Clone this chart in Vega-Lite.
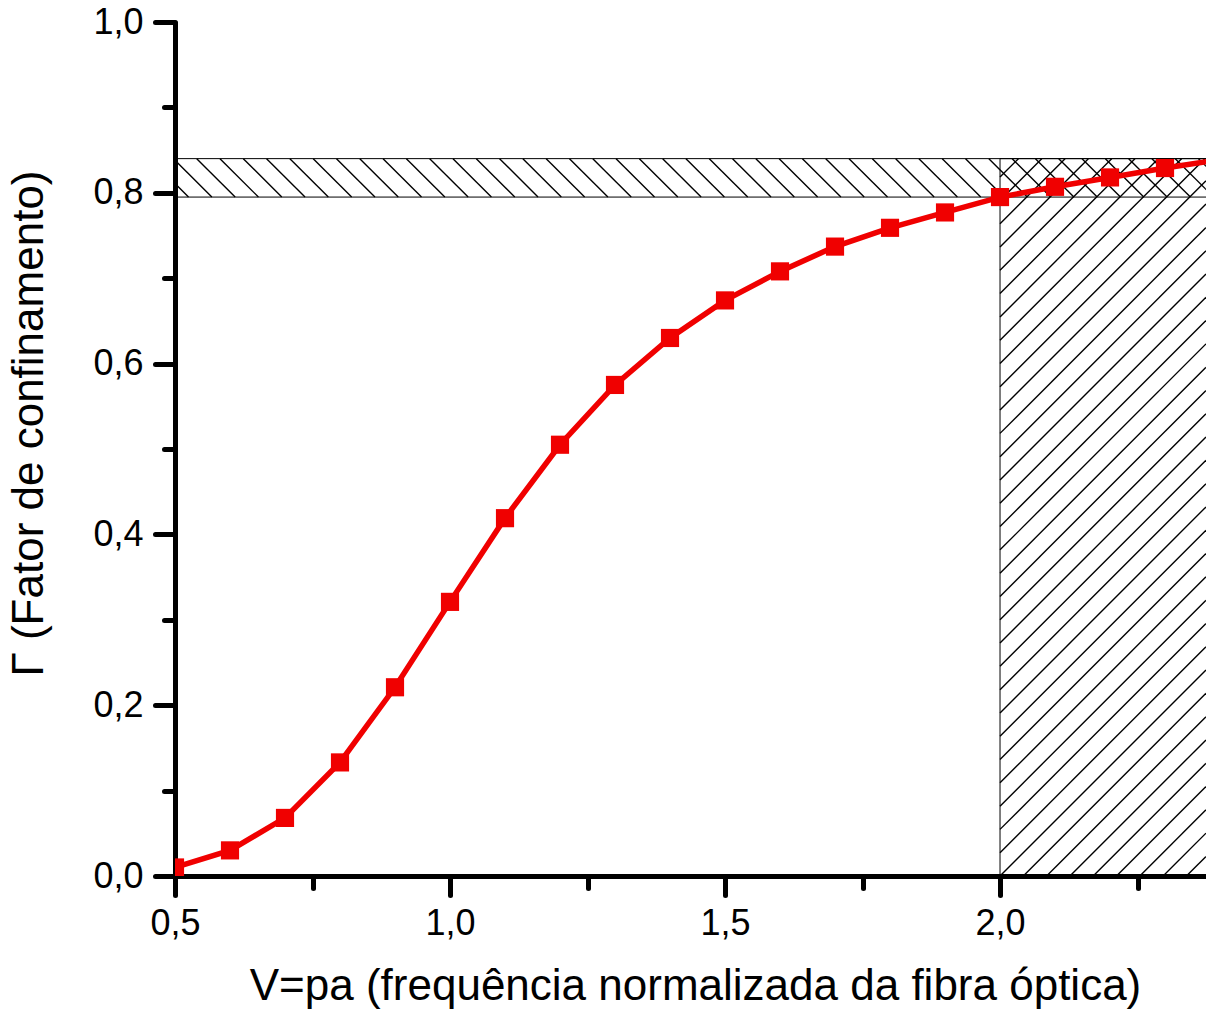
{
  "$schema": "https://vega.github.io/schema/vega-lite/v6.json",
  "width": 1031,
  "height": 854,
  "autosize": {"type": "none"},
  "padding": {"left": 175, "top": 22, "right": 0, "bottom": 134},
  "background": "white",
  "config": {"view": {"stroke": null}, "font": "Liberation Sans"},
  "datasets": {
    "curve": [
      {"V": 0.5, "G": 0.010},
      {"V": 0.6, "G": 0.030},
      {"V": 0.7, "G": 0.068},
      {"V": 0.8, "G": 0.133},
      {"V": 0.9, "G": 0.221},
      {"V": 1.0, "G": 0.321},
      {"V": 1.1, "G": 0.419},
      {"V": 1.2, "G": 0.505},
      {"V": 1.3, "G": 0.575},
      {"V": 1.4, "G": 0.630},
      {"V": 1.5, "G": 0.674},
      {"V": 1.6, "G": 0.708},
      {"V": 1.7, "G": 0.737},
      {"V": 1.8, "G": 0.759},
      {"V": 1.9, "G": 0.777},
      {"V": 2.0, "G": 0.795},
      {"V": 2.1, "G": 0.807},
      {"V": 2.2, "G": 0.818},
      {"V": 2.3, "G": 0.829},
      {"V": 2.4, "G": 0.839}
    ],
    "regions": [
      {"x": 0.5, "x2": 2.45, "y": 0.795, "y2": 0.84},
      {"x": 2.0, "x2": 2.45, "y": 0.0, "y2": 0.84}
    ],
    "hatchBand": [
      {"x": 0.4547, "y": 0.84, "x2": 0.5246, "y2": 0.795},
      {"x": 0.4971, "y": 0.84, "x2": 0.5670, "y2": 0.795},
      {"x": 0.5395, "y": 0.84, "x2": 0.6094, "y2": 0.795},
      {"x": 0.5818, "y": 0.84, "x2": 0.6517, "y2": 0.795},
      {"x": 0.6242, "y": 0.84, "x2": 0.6941, "y2": 0.795},
      {"x": 0.6665, "y": 0.84, "x2": 0.7364, "y2": 0.795},
      {"x": 0.7089, "y": 0.84, "x2": 0.7788, "y2": 0.795},
      {"x": 0.7513, "y": 0.84, "x2": 0.8212, "y2": 0.795},
      {"x": 0.7936, "y": 0.84, "x2": 0.8635, "y2": 0.795},
      {"x": 0.8360, "y": 0.84, "x2": 0.9059, "y2": 0.795},
      {"x": 0.8783, "y": 0.84, "x2": 0.9482, "y2": 0.795},
      {"x": 0.9207, "y": 0.84, "x2": 0.9906, "y2": 0.795},
      {"x": 0.9631, "y": 0.84, "x2": 1.0330, "y2": 0.795},
      {"x": 1.0054, "y": 0.84, "x2": 1.0753, "y2": 0.795},
      {"x": 1.0478, "y": 0.84, "x2": 1.1177, "y2": 0.795},
      {"x": 1.0901, "y": 0.84, "x2": 1.1600, "y2": 0.795},
      {"x": 1.1325, "y": 0.84, "x2": 1.2024, "y2": 0.795},
      {"x": 1.1749, "y": 0.84, "x2": 1.2448, "y2": 0.795},
      {"x": 1.2172, "y": 0.84, "x2": 1.2871, "y2": 0.795},
      {"x": 1.2596, "y": 0.84, "x2": 1.3295, "y2": 0.795},
      {"x": 1.3019, "y": 0.84, "x2": 1.3718, "y2": 0.795},
      {"x": 1.3443, "y": 0.84, "x2": 1.4142, "y2": 0.795},
      {"x": 1.3867, "y": 0.84, "x2": 1.4566, "y2": 0.795},
      {"x": 1.4290, "y": 0.84, "x2": 1.4989, "y2": 0.795},
      {"x": 1.4714, "y": 0.84, "x2": 1.5413, "y2": 0.795},
      {"x": 1.5137, "y": 0.84, "x2": 1.5836, "y2": 0.795},
      {"x": 1.5561, "y": 0.84, "x2": 1.6260, "y2": 0.795},
      {"x": 1.5985, "y": 0.84, "x2": 1.6684, "y2": 0.795},
      {"x": 1.6408, "y": 0.84, "x2": 1.7107, "y2": 0.795},
      {"x": 1.6832, "y": 0.84, "x2": 1.7531, "y2": 0.795},
      {"x": 1.7255, "y": 0.84, "x2": 1.7954, "y2": 0.795},
      {"x": 1.7679, "y": 0.84, "x2": 1.8378, "y2": 0.795},
      {"x": 1.8103, "y": 0.84, "x2": 1.8802, "y2": 0.795},
      {"x": 1.8526, "y": 0.84, "x2": 1.9225, "y2": 0.795},
      {"x": 1.8950, "y": 0.84, "x2": 1.9649, "y2": 0.795},
      {"x": 1.9373, "y": 0.84, "x2": 2.0072, "y2": 0.795},
      {"x": 1.9797, "y": 0.84, "x2": 2.0496, "y2": 0.795},
      {"x": 2.0221, "y": 0.84, "x2": 2.0920, "y2": 0.795},
      {"x": 2.0644, "y": 0.84, "x2": 2.1343, "y2": 0.795},
      {"x": 2.1068, "y": 0.84, "x2": 2.1767, "y2": 0.795},
      {"x": 2.1491, "y": 0.84, "x2": 2.2190, "y2": 0.795},
      {"x": 2.1915, "y": 0.84, "x2": 2.2614, "y2": 0.795},
      {"x": 2.2339, "y": 0.84, "x2": 2.3038, "y2": 0.795},
      {"x": 2.2762, "y": 0.84, "x2": 2.3461, "y2": 0.795},
      {"x": 2.3186, "y": 0.84, "x2": 2.3885, "y2": 0.795},
      {"x": 2.3609, "y": 0.84, "x2": 2.4308, "y2": 0.795}
    ],
    "hatchCutoff": [
      {"x": 2.0, "y": 0.0, "x2": 2.3745, "y2": 0.2412},
      {"x": 2.0424, "y": 0.0, "x2": 2.3745, "y2": 0.2139},
      {"x": 2.0847, "y": 0.0, "x2": 2.3745, "y2": 0.1866},
      {"x": 2.1271, "y": 0.0, "x2": 2.3745, "y2": 0.1593},
      {"x": 2.1694, "y": 0.0, "x2": 2.3745, "y2": 0.1321},
      {"x": 2.2118, "y": 0.0, "x2": 2.3745, "y2": 0.1048},
      {"x": 2.2542, "y": 0.0, "x2": 2.3745, "y2": 0.0775},
      {"x": 2.2965, "y": 0.0, "x2": 2.3745, "y2": 0.0502},
      {"x": 2.3389, "y": 0.0, "x2": 2.3745, "y2": 0.0229},
      {"x": 2.0, "y": 0.0273, "x2": 2.3745, "y2": 0.2685},
      {"x": 2.0, "y": 0.0546, "x2": 2.3745, "y2": 0.2958},
      {"x": 2.0, "y": 0.0818, "x2": 2.3745, "y2": 0.3230},
      {"x": 2.0, "y": 0.1091, "x2": 2.3745, "y2": 0.3503},
      {"x": 2.0, "y": 0.1364, "x2": 2.3745, "y2": 0.3776},
      {"x": 2.0, "y": 0.1637, "x2": 2.3745, "y2": 0.4049},
      {"x": 2.0, "y": 0.1910, "x2": 2.3745, "y2": 0.4322},
      {"x": 2.0, "y": 0.2182, "x2": 2.3745, "y2": 0.4594},
      {"x": 2.0, "y": 0.2455, "x2": 2.3745, "y2": 0.4867},
      {"x": 2.0, "y": 0.2728, "x2": 2.3745, "y2": 0.5140},
      {"x": 2.0, "y": 0.3001, "x2": 2.3745, "y2": 0.5413},
      {"x": 2.0, "y": 0.3274, "x2": 2.3745, "y2": 0.5686},
      {"x": 2.0, "y": 0.3546, "x2": 2.3745, "y2": 0.5958},
      {"x": 2.0, "y": 0.3819, "x2": 2.3745, "y2": 0.6231},
      {"x": 2.0, "y": 0.4092, "x2": 2.3745, "y2": 0.6504},
      {"x": 2.0, "y": 0.4365, "x2": 2.3745, "y2": 0.6777},
      {"x": 2.0, "y": 0.4638, "x2": 2.3745, "y2": 0.7050},
      {"x": 2.0, "y": 0.4910, "x2": 2.3745, "y2": 0.7322},
      {"x": 2.0, "y": 0.5183, "x2": 2.3745, "y2": 0.7595},
      {"x": 2.0, "y": 0.5456, "x2": 2.3745, "y2": 0.7868},
      {"x": 2.0, "y": 0.5729, "x2": 2.3745, "y2": 0.8141},
      {"x": 2.0, "y": 0.6002, "x2": 2.3724, "y2": 0.84},
      {"x": 2.0, "y": 0.6274, "x2": 2.3301, "y2": 0.84},
      {"x": 2.0, "y": 0.6547, "x2": 2.2877, "y2": 0.84},
      {"x": 2.0, "y": 0.6820, "x2": 2.2453, "y2": 0.84},
      {"x": 2.0, "y": 0.7093, "x2": 2.2030, "y2": 0.84},
      {"x": 2.0, "y": 0.7366, "x2": 2.1606, "y2": 0.84},
      {"x": 2.0, "y": 0.7638, "x2": 2.1183, "y2": 0.84},
      {"x": 2.0, "y": 0.7911, "x2": 2.0759, "y2": 0.84},
      {"x": 2.0, "y": 0.8184, "x2": 2.0335, "y2": 0.84}
    ]
  },
  "layer": [
    {
      "data": {"name": "curve"},
      "mark": {"type": "line", "color": "#f00000", "strokeWidth": 5, "opacity": 0},
      "encoding": {
        "x": {
          "field": "V",
          "type": "quantitative",
          "scale": {"domain": [0.5, 2.3745], "nice": false, "zero": false},
          "axis": {
            "values": [0.5, 0.75, 1.0, 1.25, 1.5, 1.75, 2.0, 2.25],
            "labelExpr": "round(datum.value*4) % 2 == 0 ? replace(format(datum.value, '.1f'), '.', ',') : ''",
            "tickSize": {"condition": {"test": "round(datum.value*4) % 2 == 1", "value": 12}, "value": 19},
            "tickWidth": 5,
            "tickCap": "round",
            "tickColor": "black",
            "domainWidth": 5,
            "domainColor": "black",
            "grid": false,
            "labelFont": "Liberation Sans",
            "labelFontSize": 36,
            "labelColor": "black",
            "labelPadding": 11,
            "labelFlush": false,
            "labelOverlap": false,
            "title": "V=pa (frequência normalizada da fibra óptica)",
            "titleFont": "Liberation Sans",
            "titleFontSize": 44,
            "titleFontWeight": "normal",
            "titleColor": "black",
            "titleX": 520,
            "titleY": 123,
            "titleAlign": "center",
            "titleBaseline": "alphabetic"
          }
        },
        "y": {
          "field": "G",
          "type": "quantitative",
          "scale": {"domain": [0, 1], "nice": false},
          "axis": {
            "values": [0, 0.1, 0.2, 0.3, 0.4, 0.5, 0.6, 0.7, 0.8, 0.9, 1.0],
            "labelExpr": "round(datum.value*10) % 2 == 0 ? replace(format(datum.value, '.1f'), '.', ',') : ''",
            "tickSize": {"condition": {"test": "round(datum.value*10) % 2 == 1", "value": 11}, "value": 20},
            "tickWidth": 5,
            "tickCap": "round",
            "tickColor": "black",
            "domainWidth": 5,
            "domainColor": "black",
            "grid": false,
            "labelFont": "Liberation Sans",
            "labelFontSize": 36,
            "labelColor": "black",
            "labelPadding": 12,
            "labelOverlap": false,
            "title": "Γ (Fator de confinamento)",
            "titleFont": "Liberation Sans",
            "titleFontSize": 44,
            "titleFontWeight": "normal",
            "titleColor": "black",
            "titleAngle": 270,
            "titleX": -146,
            "titleY": 401,
            "titleAlign": "center",
            "titleBaseline": "middle"
          }
        }
      }
    },
    {
      "data": {"name": "hatchBand"},
      "mark": {"type": "rule", "color": "black", "strokeWidth": 1.4, "clip": true},
      "encoding": {
        "x": {"field": "x", "type": "quantitative"},
        "y": {"field": "y", "type": "quantitative"},
        "x2": {"field": "x2"},
        "y2": {"field": "y2"}
      }
    },
    {
      "data": {"name": "hatchCutoff"},
      "mark": {"type": "rule", "color": "black", "strokeWidth": 1.4, "clip": true},
      "encoding": {
        "x": {"field": "x", "type": "quantitative"},
        "y": {"field": "y", "type": "quantitative"},
        "x2": {"field": "x2"},
        "y2": {"field": "y2"}
      }
    },
    {
      "data": {"name": "regions"},
      "mark": {"type": "rect", "fill": null, "fillOpacity": 0, "stroke": "black", "strokeWidth": 1, "clip": true},
      "encoding": {
        "x": {"field": "x", "type": "quantitative"},
        "x2": {"field": "x2"},
        "y": {"field": "y", "type": "quantitative"},
        "y2": {"field": "y2"}
      }
    },
    {
      "data": {"name": "curve"},
      "mark": {"type": "line", "color": "#f00000", "strokeWidth": 5.5, "clip": true},
      "encoding": {
        "x": {"field": "V", "type": "quantitative"},
        "y": {"field": "G", "type": "quantitative"}
      }
    },
    {
      "data": {"name": "curve"},
      "mark": {"type": "point", "shape": "square", "filled": true, "size": 330, "color": "#f00000", "opacity": 1, "clip": true},
      "encoding": {
        "x": {"field": "V", "type": "quantitative"},
        "y": {"field": "G", "type": "quantitative"}
      }
    }
  ]
}
